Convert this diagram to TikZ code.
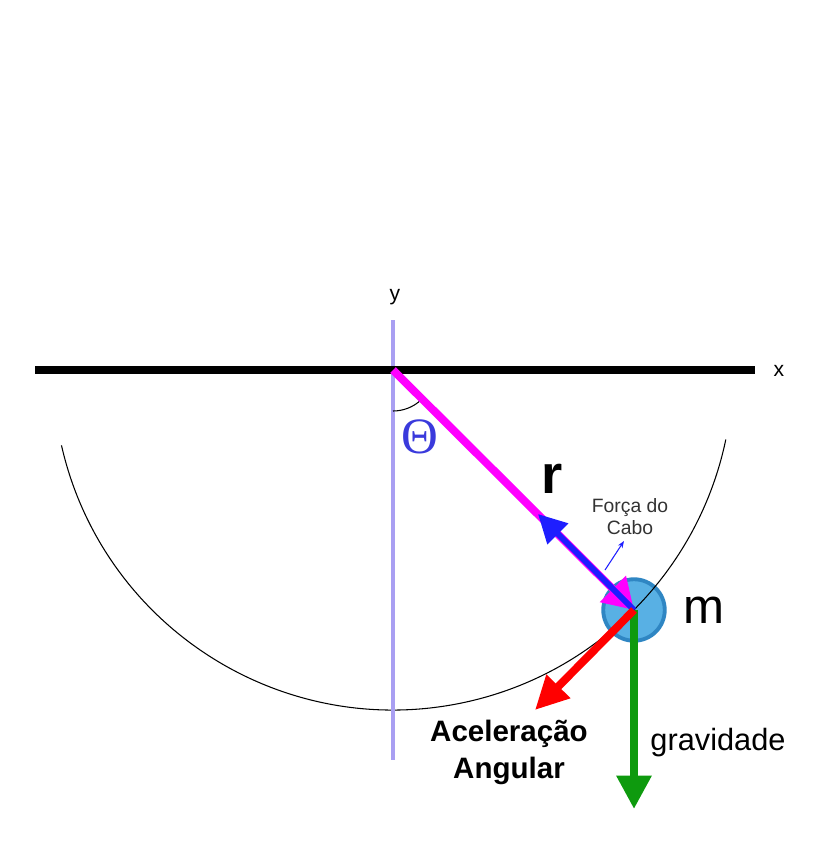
\documentclass[tikz,border=0pt]{standalone}
\usepackage{fontspec}
\setmainfont{Liberation Sans}
\newfontfamily\greekserif{Liberation Serif}
\usetikzlibrary{arrows.meta}
\definecolor{axisviolet}{HTML}{A99FF2}
\definecolor{rodmagenta}{HTML}{FF00FF}
\definecolor{thetablue}{HTML}{3A3ADC}
\definecolor{cableblue}{HTML}{1E1EFF}
\definecolor{gravgreen}{HTML}{0E9A0E}
\definecolor{massfill}{HTML}{58B0E4}
\definecolor{massedge}{HTML}{2F86C3}
\definecolor{textgray}{HTML}{333333}

\begin{document}
\begin{tikzpicture}[x=0.02cm, y=0.02cm,
    vec/.style={line width=4.5pt},
    lbl/.style={inner sep=0pt, font=\fontsize{12}{14}\selectfont}]
  \useasboundingbox (0,0) rectangle (831,-860);
  % pivot, axis ends and the tips of the vectors
  \coordinate (pivot) at (393,-370);
  \coordinate (xleft) at (35,-370);
  \coordinate (xright) at (755,-370);
  \coordinate (ytop) at (393,-320);
  \coordinate (ybot) at (393,-760);
  \coordinate (tensiontip) at (538,-514);
  \coordinate (acceltip) at (535,-710);
  \coordinate (gravtip) at (634,-809);
  \coordinate (cabofrom) at (605,-570);
  \coordinate (caboto) at (624,-541);
  % the bob
  \node[circle, inner sep=0pt, minimum size=35pt, fill=massfill, draw=massedge,
        line width=2.2pt] (mass) at (634,-610) {};
  % path of the bob
  \draw[line width=0.6pt] (pivot) ++(192.8:340) arc (192.8:348.2:340);
  % axes
  \draw[axisviolet, line width=2pt] (ytop) -- (ybot);
  \draw[line width=4.5pt] (xleft) -- (xright);
  \node[lbl] (xlab) at (779,-371) {x};
  \node[lbl] (ylab) at (395,-297) {y};
  % angle
  \draw[line width=0.6pt] (pivot) ++(270:41) arc (270:313:41);
  \node[inner sep=0pt, thetablue, font=\greekserif\fontsize{29}{30}\selectfont]
      (theta) at (420,-437) {Θ};
  % rod
  \draw[rodmagenta, vec, -{Triangle[length=17pt, width=20pt]}] (pivot) -- (mass.center);
  \node[inner sep=0pt, font=\bfseries\fontsize{31}{34}\selectfont] (rlab) at (552,-479) {r};
  % cable force
  \draw[cableblue, line width=3.4pt, -{Triangle[length=16pt, width=16pt]}]
      (mass.center) -- (tensiontip);
  \draw[cableblue, line width=0.6pt, -{Stealth[length=4pt, width=3pt]}] (cabofrom) -- (caboto);
  \node[inner sep=0pt, align=center, textgray, font=\fontsize{11}{12.5}\selectfont]
      (cabolab) at (630,-517) {Força do\\Cabo};
  % gravity and angular acceleration
  \draw[gravgreen, vec, -{Triangle[length=19pt, width=19pt]}] (mass.center) -- (gravtip);
  \draw[red, vec, -{Triangle[length=19pt, width=18pt]}] (mass.center) -- (acceltip);
  \node[inner sep=0pt, font=\fontsize{28}{30}\selectfont] (mlab) at (704,-610) {m};
  \node[inner sep=0pt, font=\fontsize{17.5}{20}\selectfont] (gravlab) at (718,-743) {gravidade};
  \node[inner sep=0pt, align=center, font=\bfseries\fontsize{16.8}{21}\selectfont]
      (accellab) at (509,-752) {Aceleração\\Angular};
\end{tikzpicture}
\end{document}
